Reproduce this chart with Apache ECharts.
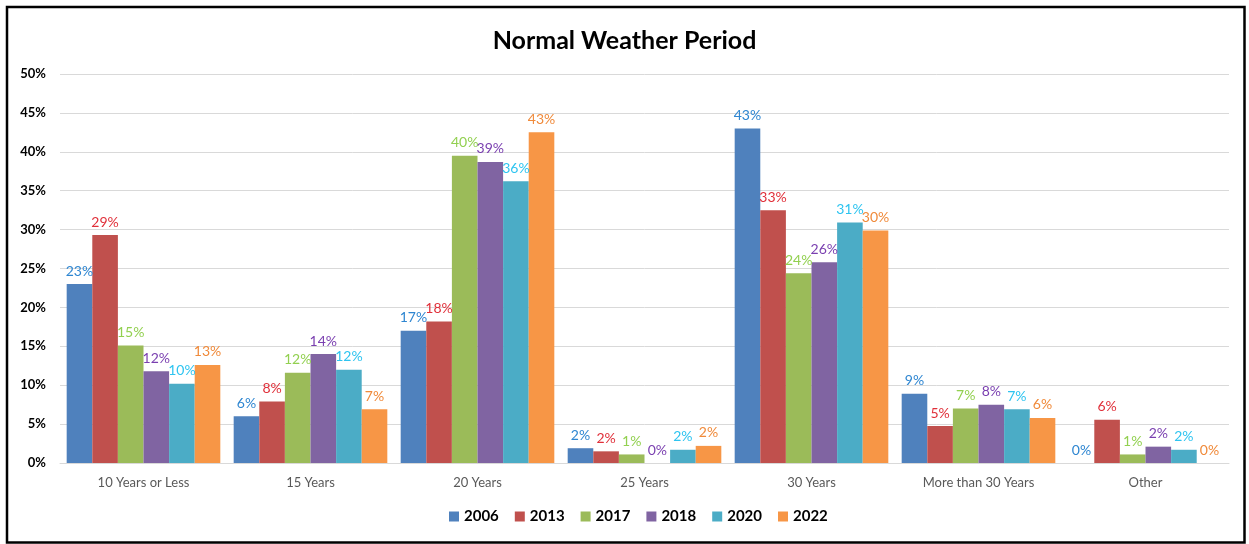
<!DOCTYPE html>
<html>
<head>
<meta charset="utf-8">
<script src="https://cdn.jsdelivr.net/npm/echarts@6/dist/echarts.min.js"></script>
<style>
  html, body { margin: 0; padding: 0; background: #fff; }
  #chart { width: 1249px; height: 544px; }
</style>
</head>
<body>
<div id="chart"></div>
<script>
// Categories of the normal weather period
const categories = ['10 Years or Less', '15 Years', '20 Years', '25 Years', '30 Years', 'More than 30 Years', 'Other'];

// Share of respondents (%) by survey year
const y2006 = [23.0, 6.0, 17.0, 1.9, 43.0, 8.9, 0];
const y2013 = [29.3, 7.9, 18.2, 1.5, 32.5, 4.75, 5.55];
const y2017 = [15.1, 11.6, 39.5, 1.1, 24.4, 7.0, 1.1];
const y2018 = [11.8, 14.0, 38.7, 0, 25.8, 7.5, 2.1];
const y2020 = [10.2, 12.0, 36.2, 1.7, 30.9, 6.9, 1.7];
const y2022 = [12.6, 6.9, 42.5, 2.2, 29.9, 5.8, 0];

const yearNames = ['2006', '2013', '2017', '2018', '2020', '2022'];
const yearValues = [y2006, y2013, y2017, y2018, y2020, y2022];

const barColors = ['#4F81BD', '#C0504D', '#9BBB59', '#8064A2', '#4BACC6', '#F79646'];
const labelColors = ['#2E86D1', '#E0303A', '#92D050', '#7A3FB0', '#2EC4F0', '#F08A3A'];

const series = yearNames.map((name, i) => ({
  name: name,
  type: 'bar',
  data: yearValues[i],
  barGap: '0%',
  barCategoryGap: '8%',
  itemStyle: { color: barColors[i] },
  label: {
    show: true,
    position: 'top',
    distance: 6,
    color: labelColors[i],
    fontFamily: 'Lato',
    fontSize: 14,
    formatter: p => Math.round(p.value) + '%'
  }
}));

const chart = echarts.init(document.getElementById('chart'), null, { renderer: 'canvas' });
chart.setOption({
  animation: false,
  backgroundColor: '#fff',
  title: {
    text: 'Normal Weather Period',
    left: 'center',
    top: 23,
    textStyle: { fontFamily: 'Lato', fontWeight: 'bold', fontSize: 25, color: '#000' }
  },
  legend: {
    data: yearNames,
    bottom: 15,
    left: 444,
    itemWidth: 10,
    itemHeight: 10,
    itemGap: 16,
    icon: 'rect',
    textStyle: { fontFamily: 'Lato', fontWeight: 'bold', fontSize: 15, color: '#000' }
  },
  grid: { left: 60, right: 20, top: 74, bottom: 81, containLabel: false },
  xAxis: {
    type: 'category',
    data: categories,
    axisLine: { lineStyle: { color: '#D9D9D9', width: 1 } },
    axisTick: { show: false },
    axisLabel: { fontFamily: 'Lato', fontSize: 13, color: '#595959', margin: 13 }
  },
  yAxis: {
    type: 'value',
    min: 0,
    max: 50,
    interval: 5,
    axisLine: { show: false },
    axisTick: { show: false },
    splitLine: { lineStyle: { color: '#D9D9D9', width: 1 } },
    axisLabel: {
      fontFamily: 'Lato', fontWeight: 'bold', fontSize: 13, color: '#000', margin: 14,
      formatter: v => v + '%'
    }
  },
  graphic: [{
    type: 'rect',
    shape: { x: 7, y: 7, width: 1237.5, height: 535.5 },
    style: { fill: null, stroke: '#000', lineWidth: 2.5 },
    silent: true
  }],
  series: series
});
</script>
</body>
</html>
